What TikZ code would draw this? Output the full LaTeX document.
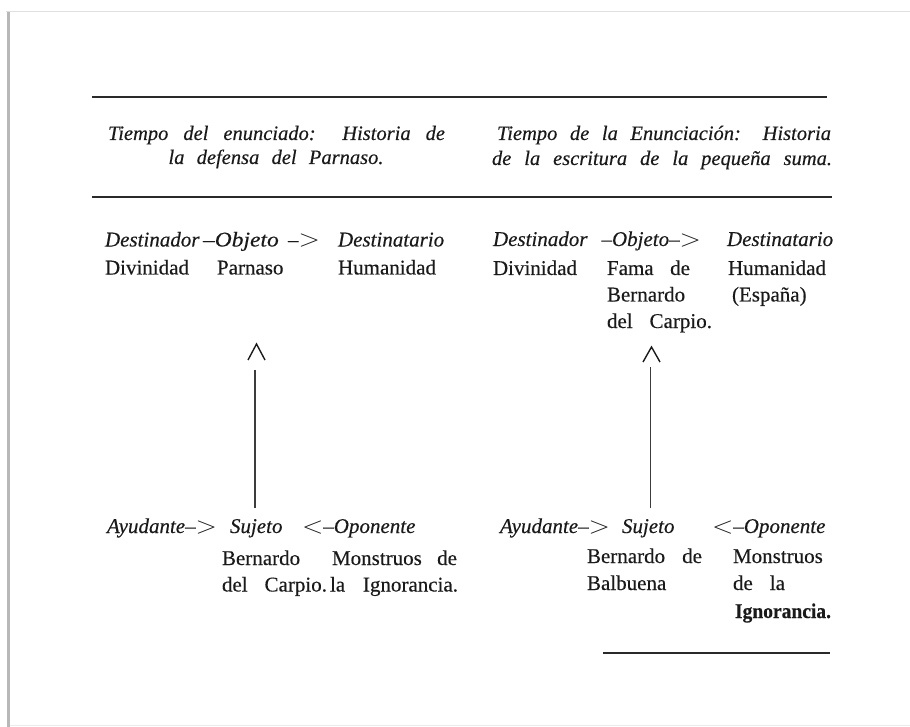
\documentclass[tikz,border=0pt]{standalone}
\usepackage{fontspec}
\setmainfont[FakeBold=0.35]{Liberation Serif}
\definecolor{ink}{HTML}{1A1A1A}
\definecolor{rulec}{HTML}{2A2A2A}
\newcommand{\gtr}{\raisebox{-0.5pt}{\scalebox{1.35}[1.15]{$>$}}}
\newcommand{\lss}{\raisebox{-0.5pt}{\scalebox{1.35}[1.15]{$<$}}}
\begin{document}
\begin{tikzpicture}[x=1pt,y=-1pt,
  txt/.style={anchor=base west,inner sep=0pt,outer sep=0pt,text=ink,font=\fontsize{21}{27}\selectfont},
  itx/.style={txt,font=\fontsize{21}{27}\selectfont\itshape},
  head/.style={txt,font=\fontsize{20.5}{24}\selectfont\itshape},
  rulel/.style={draw=rulec,line width=2pt},
  stem/.style={draw=ink!85,line width=1.4pt},
  caret/.style={draw=ink,line width=1.4pt,line join=miter}]
\useasboundingbox (0,0) rectangle (910,727);
% frame shadow
\fill[black!28] (7,12) rectangle (10,727);
\draw[black!12,line width=1.5pt] (6,11.5) -- (910,11.5);
\draw[black!8,line width=1.5pt] (10,725.5) -- (910,725.5);
% rules
\draw[rulel] (92,97) -- (827,97);
\draw[rulel] (92,197.5) -- (832,197.5);
\draw[rulel] (603,652.5) -- (830,652.5);
% headers
\node[head] (hL1) at (108,140) {\makebox[337pt][s]{Tiempo del enunciado: Historia de}};
\node[head,anchor=base] (hL2) at (276,164) {\makebox[215pt][s]{la defensa del Parnaso.}};
\node[head] (hR1) at (497,140) {\makebox[334pt][s]{Tiempo de la Enunciación: Historia}};
\node[head] (hR2) at (492,165) {\makebox[340pt][s]{de la escritura de la pequeña suma.}};
% left upper row
\node[itx] (dorL) at (105,246.5) {Destinador};
\node[itx] (objL) at (203,246.5) {\scalebox{1.12}[1]{–Objeto}};
\node[itx] (arL) at (288,246.5) {–\gtr};
\node[itx] (dtarL) at (338,246.5) {Destinatario};
\node[txt] (divL) at (105,274.5) {Divinidad};
\node[txt] (parL) at (217,274.5) {Parnaso};
\node[txt] (humL) at (338,274.5) {Humanidad};
% right upper row
\node[itx] (dorR) at (493,246) {Destinador};
\node[itx] (objR) at (601.5,246) {–Objeto–\gtr};
\node[itx] (dtarR) at (727,246) {Destinatario};
\node[txt] (divR) at (493,275) {Divinidad};
\node[txt] (famR) at (607,275) {\makebox[83pt][s]{Fama de}};
\node[txt] (humR) at (728,275) {Humanidad};
\node[txt] (berR) at (607,301.5) {Bernardo};
\node[txt] (espR) at (732,301.5) {(España)};
\node[txt] (carR) at (607,328) {\makebox[105pt][s]{del Carpio.}};
% carets and stems
\coordinate (capL) at (256.5,344);
\coordinate (stLtop) at (255,370);
\coordinate (stLbot) at (255,508);
\draw[caret] ([xshift=-8.5pt,yshift=-16pt]capL) -- (capL) -- ([xshift=8.5pt,yshift=-16pt]capL);
\draw[stem] (stLbot) -- (stLtop);
\coordinate (capR) at (651.5,347);
\coordinate (stRtop) at (650.5,367);
\coordinate (stRbot) at (650.5,508);
\draw[caret] ([xshift=-8.5pt,yshift=-15pt]capR) -- (capR) -- ([xshift=8.5pt,yshift=-15pt]capR);
\draw[stem] (stRbot) -- (stRtop);
% left lower row
\node[itx] (ayuL) at (107,533) {Ayudante–\gtr};
\node[itx] (sujL) at (230,533) {Sujeto};
\node[itx] (opoL) at (302,533) {\lss–Oponente};
\node[txt] (berL) at (222,565) {Bernardo};
\node[txt] (monL) at (332,565) {\makebox[125pt][s]{Monstruos de}};
\node[txt] (carL) at (222,591.5) {\makebox[105pt][s]{del Carpio.}};
\node[txt] (ignL) at (330,591.5) {\makebox[128pt][s]{la Ignorancia.}};
% right lower row
\node[itx] (ayuR) at (500,533) {Ayudante–\gtr};
\node[itx] (sujR) at (622,533) {Sujeto};
\node[itx] (opoR) at (712,533) {\lss–Oponente};
\node[txt] (berR2) at (587,563) {\makebox[115pt][s]{Bernardo de}};
\node[txt] (monR) at (733,563) {Monstruos};
\node[txt] (balR) at (587,590) {Balbuena};
\node[txt] (delaR) at (733,590) {\makebox[52pt][s]{de la}};
\node[txt,font=\fontsize{21}{27}\selectfont\bfseries] (ignR) at (735,618) {\scalebox{0.93}[1]{Ignorancia.}};
\end{tikzpicture}
\end{document}
